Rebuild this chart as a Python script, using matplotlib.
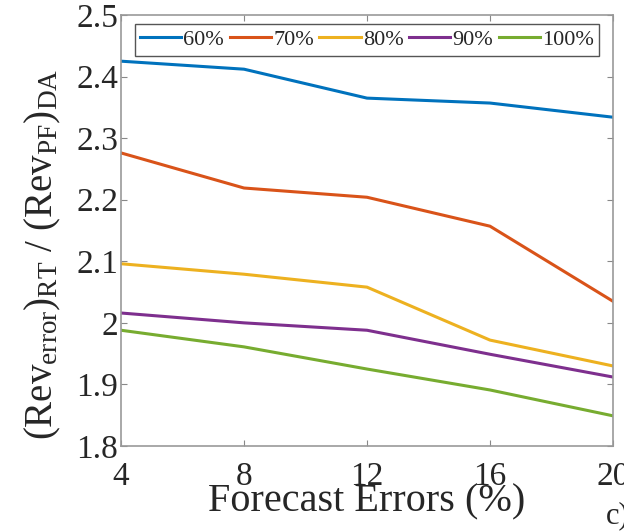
import matplotlib.pyplot as plt

plt.rcParams["font.family"] = ["Liberation Serif"]
plt.rcParams["mathtext.fontset"] = "custom"
plt.rcParams["mathtext.rm"] = "Liberation Serif"
plt.rcParams["mathtext.it"] = "Liberation Serif"
plt.rcParams["text.color"] = "#262626"
plt.rcParams["axes.labelcolor"] = "#262626"

errors = [4, 8, 12, 16, 20]
labels = ["60%", "70%", "80%", "90%", "100%"]
r60 = [2.425, 2.412, 2.365, 2.357, 2.334]
r70 = [2.276, 2.219, 2.204, 2.157, 2.035]
r80 = [2.096, 2.079, 2.058, 1.972, 1.930]
r90 = [2.016, 2.000, 1.988, 1.949, 1.912]
r100 = [1.988, 1.961, 1.925, 1.891, 1.849]
colors = ["#0072BD", "#D95319", "#EDB120", "#7E2F8E", "#77AC30"]

fig = plt.figure(figsize=(6.24, 5.31), dpi=100)
ax = fig.add_axes([121 / 624, 1 - 446 / 531, 492 / 624, 431 / 531])

for ys, lab, c in zip([r60, r70, r80, r90, r100], labels, colors):
    ax.plot(errors, ys, color=c, lw=2.2, label=lab)

ax.set_xlim(4, 20)
ax.set_ylim(1.8, 2.5)
ax.set_xticks(errors)
ax.set_yticks([1.8, 1.9, 2.0, 2.1, 2.2, 2.3, 2.4, 2.5])
ax.set_yticklabels(["1.8", "1.9", "2", "2.1", "2.2", "2.3", "2.4", "2.5"])
ax.tick_params(direction="in", top=True, right=True, labelsize=24, length=4,
               color="#888888", labelcolor="#262626", pad=2)
ax.tick_params(axis="x", pad=11)
for s in ax.spines.values():
    s.set_color("#999999")
    s.set_linewidth(1.2)

ax.set_xlabel("Forecast Errors (%)", fontsize=29, labelpad=-6)
ax.set_ylabel(r"$\mathrm{(Rev_{error})_{RT}\ /\ (Rev_{PF})_{DA}}$", fontsize=28)
ax.yaxis.set_label_coords(-0.118, 0.445)

leg = ax.legend(loc="upper center", ncol=5, fontsize=16, handlelength=1.85,
                handletextpad=0.1, columnspacing=0.25, borderpad=0.25,
                borderaxespad=0.4, bbox_to_anchor=(0.5, 1.0),
                fancybox=False, framealpha=1)
leg.get_frame().set_edgecolor("#555555")
leg.get_frame().set_linewidth(1.0)

fig.text(606 / 624, 0.015, "c)", fontsize=22)

plt.savefig("out.png", dpi=100)
